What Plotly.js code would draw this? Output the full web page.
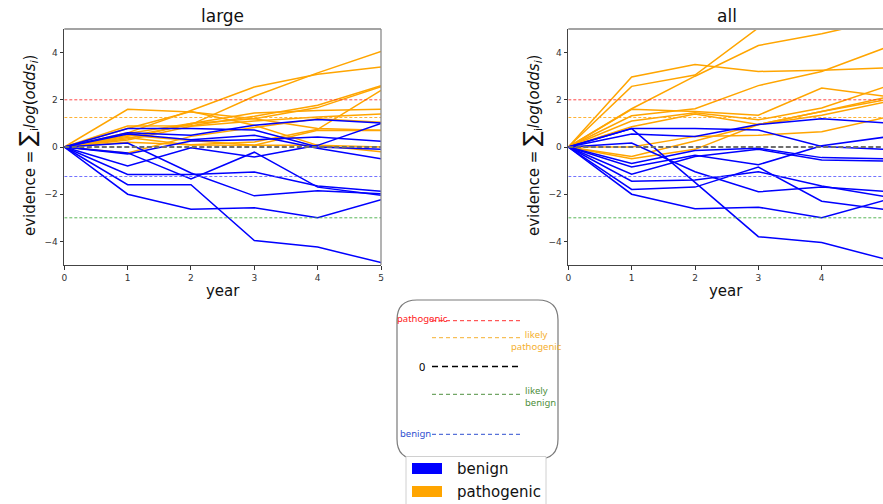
<!DOCTYPE html>
<html>
<head>
<meta charset="utf-8">
<script src="https://cdn.plot.ly/plotly-3.0.1.min.js"></script>
<style>html,body{margin:0;padding:0;background:#fff;}#chart{width:883px;height:504px;}</style>
</head>
<body>
<div id="chart"></div>
<script>
// ---------------- data ----------------
var years = [0, 1, 2, 3, 4, 5];
var panelTitles = ["large", "all"];
var classNames = ["benign", "pathogenic"];

// evidence trajectories, panel "large"
var largeBenign = [
  [0, 0.78, 0.78, 0.72, 0.00, -0.10],
  [0, 0.60, 0.50, 0.92, 1.17, 1.02],
  [0, 0.55, 0.31, 0.50, -0.05, -0.50],
  [0, -0.30, 0.25, 0.31, 0.42, 0.24],
  [0, -0.80, -0.03, -0.42, 0.07, 1.00],
  [0, -0.25, -1.35, -0.22, -1.70, -2.05],
  [0, 0.17, -1.10, -2.07, -1.85, -1.98],
  [0, -1.16, -1.16, -1.06, -1.65, -1.87],
  [0, -1.60, -1.60, -3.96, -4.24, -4.90],
  [0, -2.00, -2.64, -2.57, -3.00, -2.23]
];
var largePathogenic = [
  [0, 1.60, 1.48, 1.20, 0.78, 0.71],
  [0, 0.60, 1.55, 2.54, 3.08, 3.39],
  [0, 0.45, 0.95, 2.15, 3.14, 4.05],
  [0, 0.89, 0.90, 1.30, 1.77, 2.60],
  [0, 0.35, 1.00, 1.20, 1.67, 2.55],
  [0, 0.20, 0.10, 0.21, 0.75, 2.40],
  [0, 0.57, 1.00, 1.44, 1.55, 1.60],
  [0, 0.30, 0.88, 1.10, 1.27, 1.40],
  [0, -0.25, 0.45, 0.82, 1.20, 1.05],
  [0, 0.50, 0.28, 0.07, 0.71, 0.70],
  [0, 0.40, 0.08, 0.07, 0.07, 0.00],
  [0, 0.78, 1.50, 0.92, 0.07, -0.20]
];
// evidence trajectories, panel "all"
var allBenign = [
  [0, 0.78, 0.78, 0.72, 0.02, -0.10],
  [0, 0.55, 0.45, 0.95, 1.20, 1.02],
  [0, 0.78, -1.50, -3.80, -4.05, -4.75],
  [0, 0.17, -1.05, -1.90, -1.70, -1.88],
  [0, -2.00, -2.62, -2.55, -3.00, -2.25],
  [0, -1.80, -1.70, -0.85, -2.30, -2.65],
  [0, -1.45, -1.40, -1.05, -1.65, -2.10],
  [0, -1.15, -0.40, -0.10, -0.55, -0.60],
  [0, -0.85, -0.35, -0.75, 0.05, 0.42],
  [0, -0.70, -0.15, -0.05, -0.45, -0.50]
];
var allPathogenic = [
  [0, 2.97, 3.50, 3.20, 3.25, 3.35],
  [0, 2.57, 3.05, 5.05, 6.00, 7.00],
  [0, 1.62, 3.00, 4.30, 4.80, 5.40],
  [0, 1.32, 1.62, 2.60, 3.20, 4.20],
  [0, 1.60, 1.50, 1.35, 2.50, 2.15],
  [0, 1.10, 1.45, 1.15, 1.65, 2.55],
  [0, 0.86, 1.40, 0.95, 1.50, 2.00],
  [0, 0.00, 0.45, 0.50, 0.65, 1.25],
  [0, -0.40, 0.25, 0.95, 1.50, 2.10],
  [0, -0.50, -0.10, 0.95, 1.35, 1.90]
];
// evidence thresholds
var thresholdNames = ["pathogenic", "likely pathogenic", "0", "likely benign", "benign"];
var thresholdValues = [2, 1.25, 0, -3, -1.25];
var yTicks = [-4, -2, 0, 2, 4];
var xTicks = [0, 1, 2, 3, 4, 5];

// ---------------- styles ----------------
var W = 883, H = 504;
function X(px) { return px / W; }
function Y(py) { return 1 - py / H; }
var BLUE = "#0000ff", ORANGE = "#ffa500";
var thrStyle = [
  {color: "rgba(255,40,40,0.85)", dash: "3px,2px", width: 1},
  {color: "rgba(255,170,30,0.9)", dash: "3px,2px", width: 1},
  {color: "#6e6e6e", dash: "5px,2.5px", width: 2},
  {color: "rgba(60,170,60,0.85)", dash: "3px,2px", width: 1},
  {color: "rgba(90,90,255,0.85)", dash: "3px,2px", width: 1}
];

var traces = [];
function addLines(list, color, xa, ya) {
  list.forEach(function (vals) {
    traces.push({
      type: "scatter", mode: "lines", x: years, y: vals,
      xaxis: xa, yaxis: ya, showlegend: false, hoverinfo: "skip",
      line: {color: color, width: 1.5}
    });
  });
}
addLines(largePathogenic, ORANGE, "x", "y");
addLines(largeBenign, BLUE, "x", "y");
addLines(allPathogenic, ORANGE, "x2", "y2");
addLines(allBenign, BLUE, "x2", "y2");

var shapes = [];
var annotations = [];
function label(text, px, py, size, color, family, extra) {
  var a = {text: text, xref: "paper", yref: "paper", x: X(px), y: Y(py),
    xanchor: "center", yanchor: "middle", showarrow: false,
    font: {family: family || "DejaVu Sans", size: size, color: color}};
  if (extra) for (var k in extra) a[k] = extra[k];
  annotations.push(a);
}
// thresholds in each panel
[["x", "y"], ["x2", "y2"]].forEach(function (ax) {
  thresholdValues.forEach(function (v, i) {
    shapes.push({type: "line", xref: ax[0], yref: ax[1], x0: 0, x1: 5, y0: v, y1: v,
      layer: "above", line: thrStyle[i]});
  });
  shapes.push({type: "line", xref: ax[0] + " domain", yref: ax[1] + " domain",
    x0: 0, x1: 1, y0: 1, y1: 1, layer: "above", line: {color: "#a3a3a3", width: 2.2}});
});
shapes.push({type: "line", xref: "x domain", yref: "y domain", x0: 1, x1: 1, y0: 0, y1: 1,
  layer: "above", line: {color: "#8a8a8a", width: 1.3}});

var domL = [X(64.3), X(381)], domR = [X(568.3), 1];
var domY = [Y(265), Y(29)];
label(panelTitles[0], 222.6, 16, 17, "#111");
label(panelTitles[1], 726.6, 16, 17, "#111");
var yTitle = "evidence = <span style='font-size:22px'>∑</span><sub>i</sub><i>log</i>(<i>odds<sub>i</sub></i>)";
label(yTitle, 27, 146, 15, "#111", null, {textangle: -90});
label(yTitle, 531, 146, 15, "#111", null, {textangle: -90});

// ---------- threshold key box ----------
(function () {
  var x0 = X(397), x1 = X(558), y0 = Y(300), y1 = Y(459);
  var rx = 20 / W, ry = 20 / H;
  var p = "M" + (x0 + rx) + "," + y0 + " L" + (x1 - rx) + "," + y0 +
    " Q" + x1 + "," + y0 + " " + x1 + "," + (y0 - ry) +
    " L" + x1 + "," + (y1 + ry) + " Q" + x1 + "," + y1 + " " + (x1 - rx) + "," + y1 +
    " L" + (x0 + rx) + "," + y1 + " Q" + x0 + "," + y1 + " " + x0 + "," + (y1 + ry) +
    " L" + x0 + "," + (y0 - ry) + " Q" + x0 + "," + y0 + " " + (x0 + rx) + "," + y0 + " Z";
  shapes.push({type: "path", xref: "paper", yref: "paper", path: p,
    line: {color: "#7a7a7a", width: 1.2}, fillcolor: "rgba(0,0,0,0)"});
  var rows = [320.7, 337.7, 366.5, 394.3, 434.3];
  var keyCols = [
    {color: "#ff3030", dash: "4px,3px", width: 1},
    {color: "#f5b030", dash: "4px,3px", width: 1},
    {color: "#000000", dash: "6px,4px", width: 1.5},
    {color: "#4f9040", dash: "4px,3px", width: 1},
    {color: "#2f4fd0", dash: "4px,3px", width: 1}
  ];
  rows.forEach(function (py, i) {
    shapes.push({type: "line", xref: "paper", yref: "paper", x0: X(432), x1: X(521),
      y0: Y(py), y1: Y(py), line: keyCols[i]});
  });
  var f = "Noto Sans";
  label("pathogenic", 422, 318, 9.5, "#ff2020", f);
  label("likely<br>pathogenic", 536, 340, 9.5, "#f5b030", f, {align: "center"});
  label("0", 422, 366, 11, "#000", f);
  label("likely<br>benign", 523, 396, 9.5, "#4f9040", f, {align: "left", xanchor: "left"});
  label("benign", 415, 433, 9.5, "#2f4fd0", f);
})();

// ---------- class legend ----------
(function () {
  shapes.push({type: "rect", xref: "paper", yref: "paper", x0: X(406), x1: X(546), y0: Y(456.5), y1: Y(506),
    line: {color: "#d0d0d0", width: 1}, fillcolor: "#ffffff"});
  var cols = [BLUE, ORANGE];
  var rowsY = [468.5, 491.5];
  classNames.forEach(function (nm, i) {
    shapes.push({type: "rect", xref: "paper", yref: "paper", x0: X(412), x1: X(442),
      y0: Y(rowsY[i] - 5.5), y1: Y(rowsY[i] + 5.5), line: {width: 0}, fillcolor: cols[i]});
    label(nm, 455, rowsY[i], 15, "#111", null, {xanchor: "left"});
  });
})();

function xAxis(dom, range, anchor) {
  return {domain: dom, range: range, anchor: anchor, tickvals: xTicks, ticks: "outside",
    ticklen: 3.5, tickwidth: 1, tickcolor: "#333", showgrid: false, zeroline: false,
    showline: true, linecolor: "#444", linewidth: 1.2,
    tickfont: {family: "DejaVu Sans", size: 9, color: "#333"},
    title: {text: "year", font: {family: "DejaVu Sans", size: 15, color: "#111"}, standoff: 4},
    fixedrange: true};
}
function yAxis(dom, anchor) {
  return {domain: dom, range: [-5, 5], anchor: anchor, tickvals: yTicks, ticks: "outside",
    ticklen: 3.5, tickwidth: 1, tickcolor: "#333", showgrid: false, zeroline: false,
    showline: true, linecolor: "#444", linewidth: 1.2,
    tickfont: {family: "DejaVu Sans", size: 9, color: "#333"}, fixedrange: true};
}

var layout = {
  width: W, height: H, margin: {l: 0, r: 0, t: 0, b: 0},
  paper_bgcolor: "#fff", plot_bgcolor: "rgba(0,0,0,0)", showlegend: false,
  xaxis: xAxis(domL, [0, 5], "y"),
  yaxis: yAxis(domY, "x"),
  xaxis2: xAxis(domR, [0, (883 - 568.3) / 63.35], "y2"),
  yaxis2: yAxis(domY, "x2"),
  shapes: shapes,
  annotations: annotations
};
Plotly.newPlot("chart", traces, layout, {displayModeBar: false, staticPlot: true});
</script>
</body>
</html>
